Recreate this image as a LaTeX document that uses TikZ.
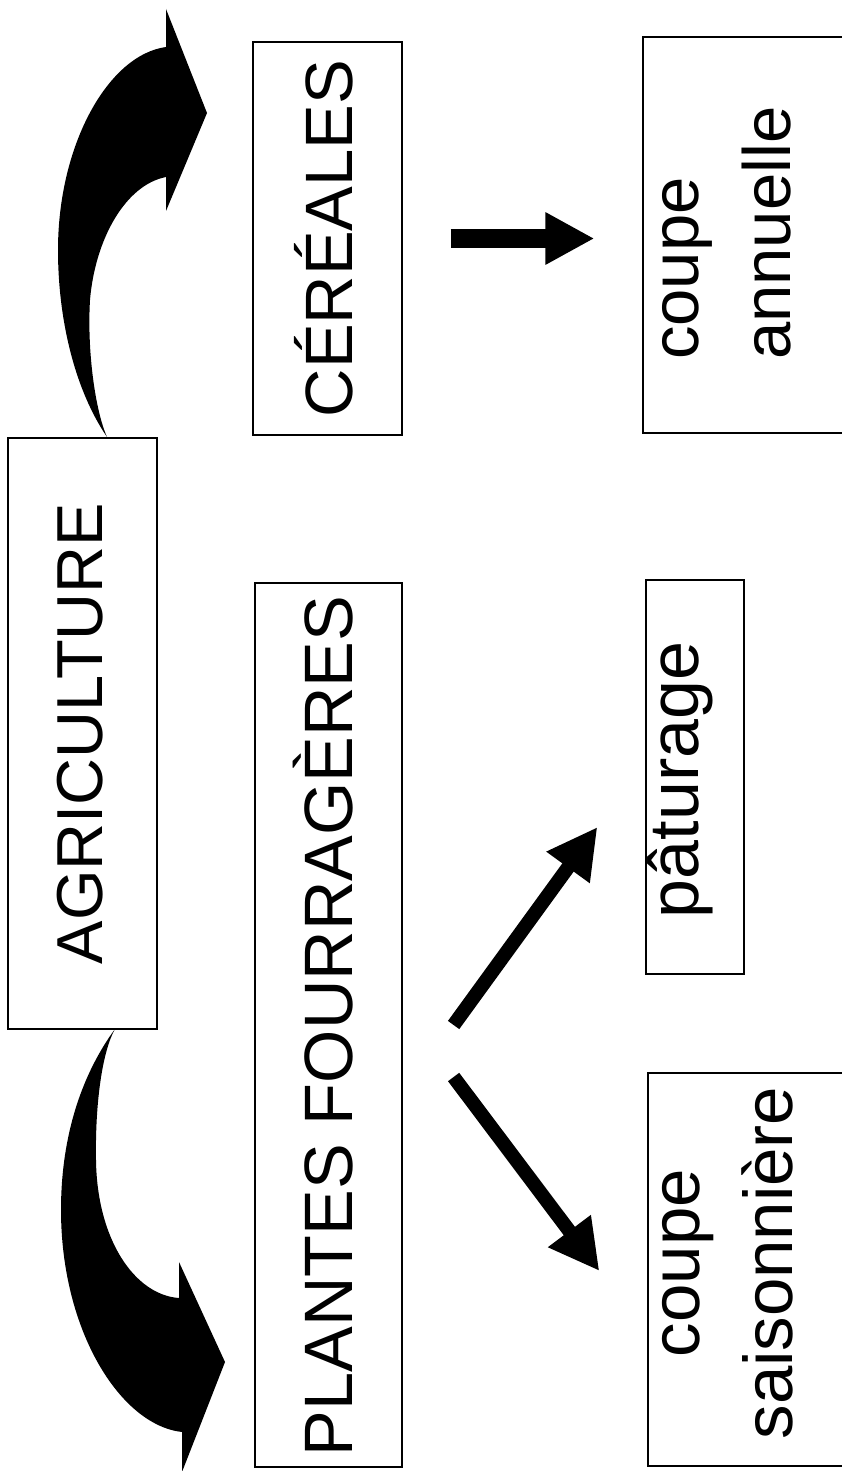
\documentclass[tikz,border=0pt]{standalone}
\usepackage{fontspec}
\setmainfont{Liberation Sans}
\usetikzlibrary{arrows.meta,calc}
\begin{document}
\begin{tikzpicture}[x=1pt,y=-1pt,
  box/.style={draw=black, line width=1.2pt, inner sep=0pt, rectangle},
  lbl/.style={rotate=90, inner sep=0pt, anchor=base},
  fatarrow/.style={line width=19pt, -{Triangle[length=49pt,width=49pt]}},
  diagarrow/.style={line width=14pt, -{Triangle[length=50pt,width=50pt]}},
  curved/.style={fill=black, draw=none}
]
\clip (0,0) rectangle (842,1471);
\fill[white] (0,0) rectangle (842,1471);

% boxes
\node[box, minimum width=149pt, minimum height=591pt] (agri) at (82.5,733.5) {};
\node[box, minimum width=149pt, minimum height=393pt] (cere) at (327.5,238.5) {};
\node[box, minimum width=147pt, minimum height=884pt] (plantes) at (328.5,1025) {};
\node[box, minimum width=217pt, minimum height=396pt] (annuelle) at (751.5,235) {};
\node[box, minimum width=98pt, minimum height=394pt] (paturage) at (695,777) {};
\node[box, minimum width=212pt, minimum height=393pt] (saison) at (754,1269.5) {};

% labels
\node[lbl, font=\fontsize{65}{78}\selectfont] (agrit) at (102,733.5) {AGRICULTURE};
\node[lbl, font=\fontsize{67}{80}\selectfont] (ceret) at (352,238.5) {CÉRÉALES};
\node[lbl, font=\fontsize{68.5}{82}\selectfont] (plantest) at (352,1026) {PLANTES FOURRAGÈRES};
\node[lbl, anchor=base west, align=left, font=\fontsize{67}{92}\selectfont] (annuellet) at (790,360) {coupe\\annuelle};
\node[lbl, font=\fontsize{70}{84}\selectfont] (paturaget) at (698,780) {pâturage};
\node[lbl, align=center, font=\fontsize{69}{93}\selectfont] (saisont) at (792,1263) {coupe\\saisonnière};

% straight arrows
\draw[fatarrow, shorten <=48pt, shorten >=48pt] (cere.east) -- (cere.east -| annuelle.west);
\draw[diagarrow] ($(plantes.east)+(51,0)$) -- ($(paturage.west)+(-48,50)$);
\draw[diagarrow] ($(plantes.east)+(51,52)$) -- ($(saison.west)+(-48,1.5)$);

% curved arrows (from AGRICULTURE to the two branches)
\fill[curved] (107,437) .. controls (75,390) and (58,320) .. (58,250)
  .. controls (58,145) and (108,55) .. (166,47)
  -- (166,9) -- (207,113) -- (166,211) -- (166,177)
  .. controls (125,185) and (95,240) .. (90,300)
  .. controls (87,350) and (95,410) .. (107,437) -- cycle;

\fill[curved] (115,1029) .. controls (85,1070) and (61,1130) .. (61,1210)
  .. controls (61,1330) and (120,1425) .. (182,1432)
  -- (182,1472) -- (225,1362) -- (179,1262) -- (179,1298)
  .. controls (135,1295) and (97,1240) .. (96,1160)
  .. controls (95,1100) and (103,1050) .. (115,1029) -- cycle;
\end{tikzpicture}
\end{document}
